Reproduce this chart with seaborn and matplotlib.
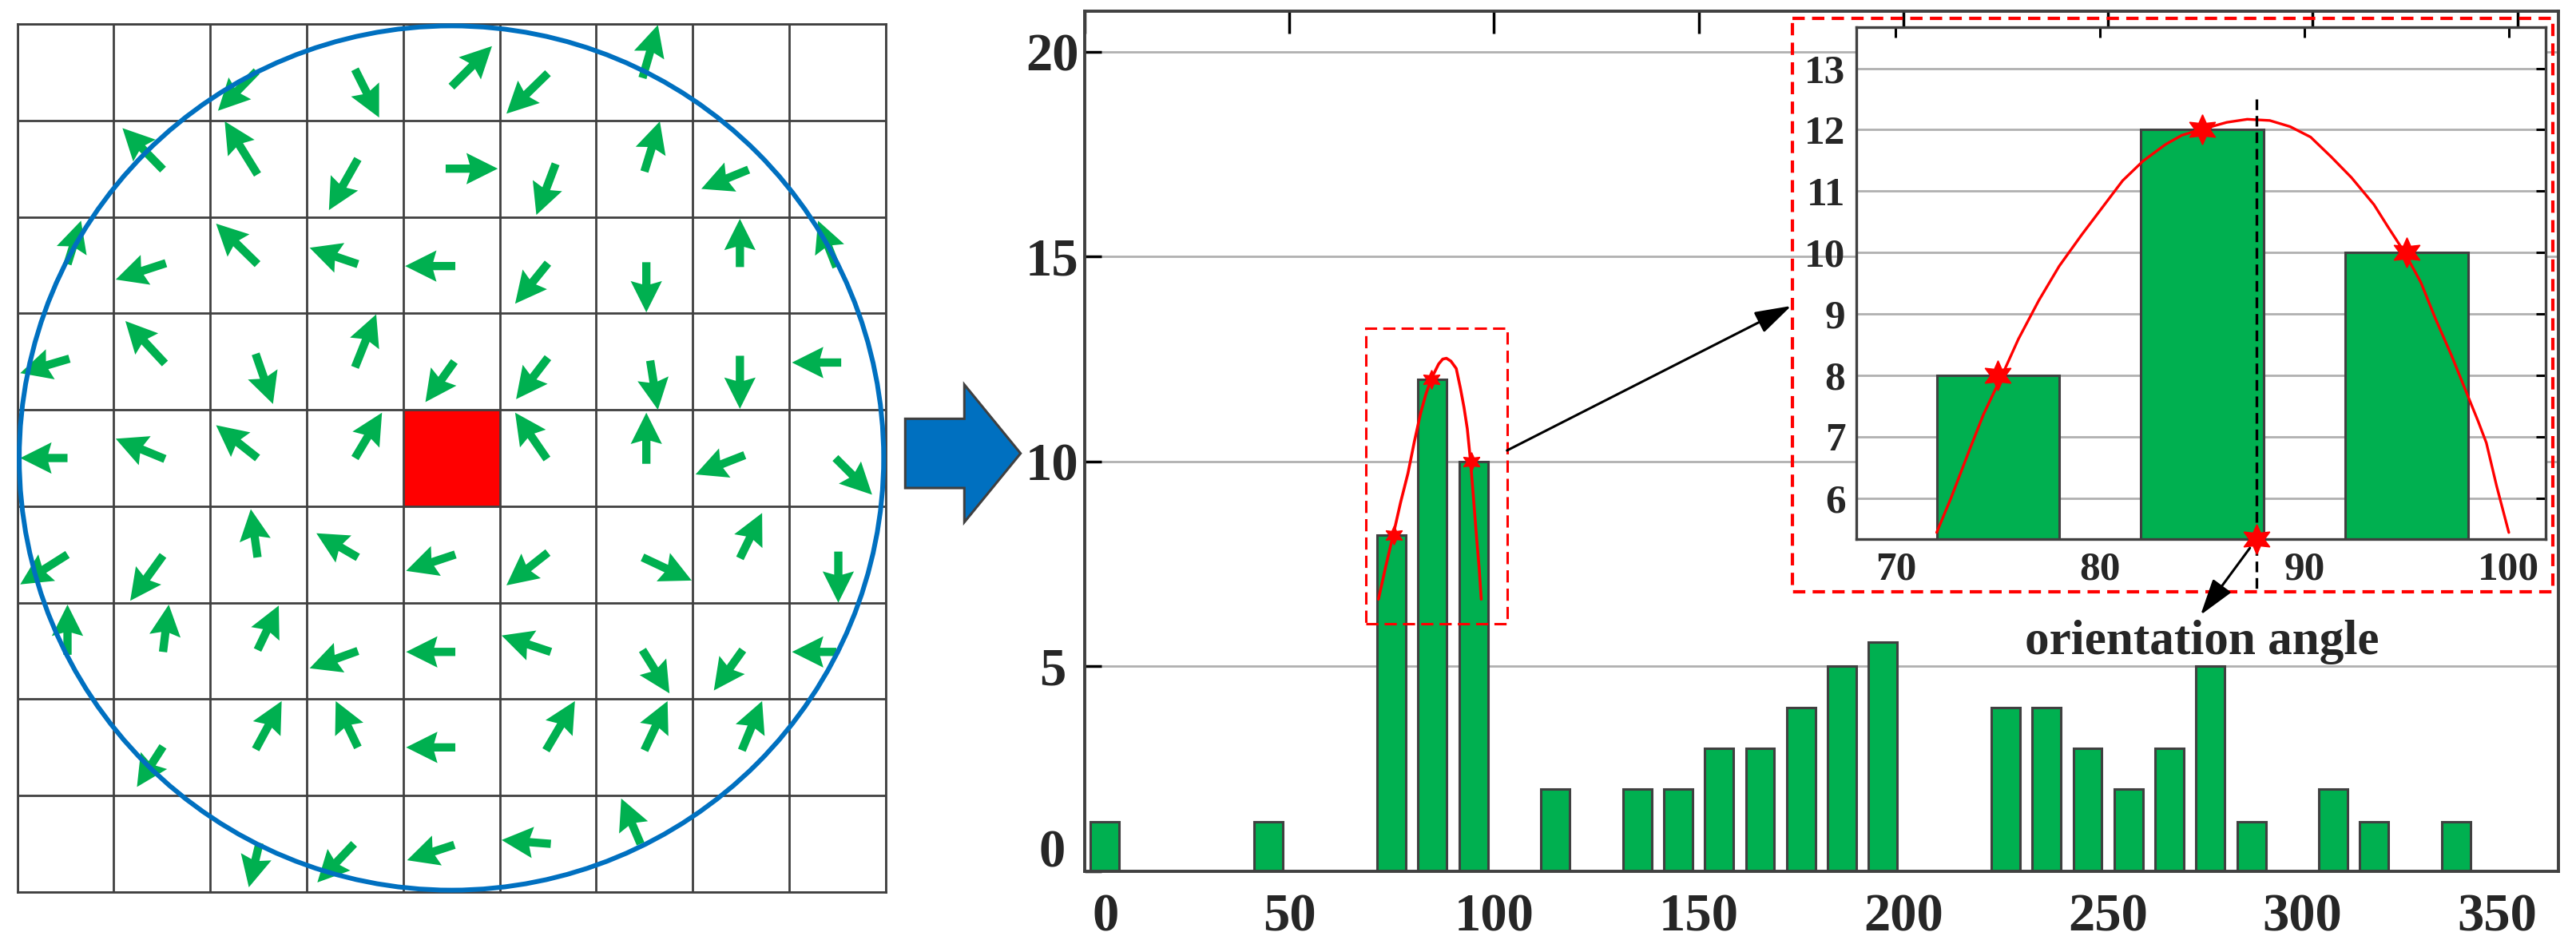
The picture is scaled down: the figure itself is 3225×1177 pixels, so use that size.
import numpy as np
import matplotlib
matplotlib.use('Agg')
import matplotlib.pyplot as plt
import matplotlib.patches as mpatches
from matplotlib.transforms import ScaledTranslation
import seaborn as sns

# ---- left panel: gradient arrows in a 9x9 cell window (cell units, y from top)
red_cell = (4, 4)
tail_x = [2.48, 3.50, 4.50, 5.50, 6.48,
          1.51, 2.49, 3.53, 4.44, 5.58, 6.50, 7.58,
          0.52, 1.54, 2.49, 3.53, 4.54, 5.50, 6.52, 7.49, 8.49,
          0.54, 1.53, 2.47, 3.50, 4.53, 5.50, 6.56, 7.49, 8.54,
          0.52, 1.53, 2.49, 3.50, 5.49, 6.52, 7.54, 8.48,
          0.52, 1.51, 2.49, 3.53, 4.54, 5.50, 6.48, 7.49, 8.51,
          0.52, 1.51, 2.49, 3.53, 4.54, 5.53, 6.48, 7.52, 8.49,
          1.51, 2.47, 3.53, 4.54, 5.48, 6.50, 7.51,
          2.51, 3.49, 4.53, 5.53, 6.46]
tail_y = [0.49, 0.47, 0.65, 0.51, 0.56,
          1.51, 1.56, 1.40, 1.50, 1.45, 1.53, 1.51,
          2.49, 2.48, 2.49, 2.49, 2.51, 2.48, 2.47, 2.52, 2.52,
          3.47, 3.52, 3.42, 3.56, 3.50, 3.46, 3.49, 3.44, 3.51,
          4.50, 4.51, 4.50, 4.50, 4.51, 4.56, 4.47, 4.50,
          5.50, 5.51, 5.53, 5.53, 5.50, 5.48, 5.53, 5.54, 5.47,
          6.54, 6.51, 6.49, 6.50, 6.51, 6.51, 6.49, 6.49, 6.51,
          7.49, 7.52, 7.50, 7.50, 7.53, 7.53, 7.53,
          8.49, 8.50, 8.51, 8.50, 8.50]
head_x = [2.08, 3.75, 4.92, 5.07, 6.64,
          1.09, 2.15, 3.23, 4.98, 5.38, 6.66, 7.09,
          0.66, 1.02, 2.06, 3.03, 4.02, 5.16, 6.52, 7.49, 8.30,
          0.03, 1.12, 2.65, 3.72, 4.23, 5.17, 6.64, 7.49, 8.03,
          0.03, 1.02, 2.06, 3.78, 5.16, 6.52, 7.03, 8.86,
          0.03, 1.17, 2.42, 3.10, 4.03, 5.07, 6.99, 7.72, 8.51,
          0.52, 1.57, 2.71, 3.03, 4.03, 5.02, 6.76, 7.22, 8.03,
          1.24, 2.74, 3.30, 4.03, 5.78, 6.74, 7.72,
          2.40, 3.11, 4.04, 5.02, 6.26]
head_y = [0.90, 0.97, 0.23, 0.93, 0.01,
          1.08, 1.01, 1.93, 1.50, 1.98, 1.01, 1.71,
          2.04, 2.65, 2.07, 2.32, 2.51, 2.90, 2.99, 2.02, 2.04,
          3.62, 3.08, 3.94, 3.01, 3.92, 3.89, 4.00, 3.99, 3.51,
          4.50, 4.30, 4.16, 4.03, 4.03, 4.03, 4.67, 4.88,
          5.81, 5.98, 5.03, 5.28, 5.67, 5.82, 5.77, 5.07, 6.00,
          6.02, 6.02, 6.03, 6.68, 6.51, 6.34, 6.94, 6.91, 6.51,
          7.91, 7.02, 7.02, 7.50, 7.02, 7.02, 7.02,
          8.95, 8.90, 8.67, 8.46, 8.03]

# ---- orientation histogram (bin centre in degrees, count)
bar_angle = [5, 45, 75, 85, 95, 115, 135, 145, 155, 165, 175, 185, 195,
             225, 235, 245, 255, 265, 275, 285, 305, 315, 335]
bar_count = [1.2, 1.2, 8.2, 12, 10, 2, 2, 2, 3, 3, 4, 5, 5.6,
             4, 4, 3, 2, 3, 5, 1.2, 2, 1.2, 1.2]
x_ticks = [0, 50, 100, 150, 200, 250, 300, 350]
y_ticks = [0, 5, 10, 15, 20]

# fitted curve over the peak, as drawn in the main plot
main_fit_x = [71.8, 73.6, 75.5, 77.2, 79.0, 80.6, 82.1, 83.4, 84.7, 86.5, 87.5,
              88.4, 89.5, 90.8, 91.8, 92.7, 93.5, 94.3, 95.1, 95.8, 96.4, 96.9]
main_fit_y = [6.64, 7.45, 8.25, 9.0, 9.71, 10.5, 11.18, 11.65, 12.02, 12.38, 12.5,
              12.52, 12.45, 12.27, 11.8, 11.32, 10.8, 10.0, 9.0, 8.1, 7.4, 6.64]
main_star_x = [75.5, 84.8, 94.4]
main_star_y = [8.2, 12.0, 10.0]
zoom_box = [68.8, 103.2, 6.05, 13.26]   # x0, x1, y0, y1

# ---- zoomed inset
inset_angle = [75, 85, 95]
inset_count = [8, 12, 10]
inset_x_ticks = [70, 80, 90, 100]
inset_y_ticks = [6, 7, 8, 9, 10, 11, 12, 13]
inset_fit_x = [72.0, 72.7, 73.6, 74.3, 75.2, 76.0, 77.0, 78.0, 79.1, 80.1, 81.1,
               82.1, 83.2, 84.0, 84.9, 86.2, 87.2, 88.3, 89.3, 90.3, 91.3, 92.3,
               93.4, 94.1, 94.9, 95.7, 96.4, 97.2, 98.0, 98.5, 98.9, 99.4, 100.0]
inset_fit_y = [5.44, 6.0, 6.78, 7.37, 8.0, 8.59, 9.22, 9.78, 10.29, 10.73, 11.17,
               11.49, 11.76, 11.91, 12.0, 12.12, 12.17, 12.15, 12.05, 11.88, 11.56, 11.22,
               10.78, 10.41, 10.0, 9.51, 8.93, 8.32, 7.66, 7.25, 6.9, 6.2, 5.44]
inset_star_x = [75, 85, 95]
inset_star_y = [8, 12, 10]
peak_angle = 87.65

GREEN = '#00B050'
EDGE = '#404040'
GRID = '#B0B0B0'
RED = '#FF0000'
BLUE = '#0070C0'
STAR = (6, 1, 0)

sns.set_style('white')
plt.rcParams['font.family'] = ['Liberation Serif', 'DejaVu Serif']
plt.rcParams['font.weight'] = 'bold'

W, H = 3225, 1177
fig = plt.figure(figsize=(W / 100, H / 100), dpi=100)

# left panel
axg = fig.add_axes([21.7 / W, 1 - 1117 / H, 1087 / W, 1087 / H])
axg.set_xlim(0, 9)
axg.set_ylim(9, 0)
axg.set_xticks(range(10))
axg.set_yticks(range(10))
axg.tick_params(length=0, labelbottom=False, labelleft=False)
axg.grid(True, color=EDGE, lw=2)
axg.set_axisbelow(True)
for s in axg.spines.values():
    s.set_color(EDGE)
    s.set_linewidth(2)
axg.add_patch(mpatches.Rectangle(red_cell, 1, 1, color=RED, zorder=0.3))
u = np.subtract(head_x, tail_x)
v = np.subtract(head_y, tail_y)
axg.quiver(tail_x, tail_y, u, v, angles='xy', scale_units='xy', scale=1,
           color=GREEN, width=0.0095, headwidth=3.8, headlength=3.8,
           headaxislength=3.4, zorder=3)
axg.add_patch(mpatches.Circle((4.5, 4.5), 4.48, fill=False, ec=BLUE, lw=4.3,
                              zorder=4, clip_on=False))

# main histogram
ax = fig.add_axes([1357.7 / W, 1 - 1091 / H, (3203 - 1357.7) / W, (1091 - 13.5) / H])
sns.barplot(x=bar_angle, y=bar_count, native_scale=True, width=0.7, color=GREEN,
            saturation=1, edgecolor=EDGE, linewidth=2.2, errorbar=None, ax=ax, zorder=2)
ax.set_xlim(0, 360)
ax.set_ylim(0, 21)
ax.set_xticks(x_ticks, [str(t) for t in x_ticks])
ax.set_yticks(y_ticks, [str(t) for t in y_ticks], ha='center')
ax.set_xlabel('')
ax.set_ylabel('')
ax.yaxis.grid(True, color=GRID, lw=2)
ax.xaxis.grid(False)
ax.set_axisbelow(True)
for s in ax.spines.values():
    s.set_color(EDGE)
    s.set_linewidth(2.8)
ax.tick_params(axis='x', direction='in', top=True, bottom=False, labelbottom=True,
               length=20, width=2.5, color='black', labelsize=48, pad=20)
ax.tick_params(axis='y', direction='in', left=True, right=False, length=15,
               width=2.5, color='black', labelsize=48, pad=29)
sns.lineplot(x=main_fit_x, y=main_fit_y, sort=False, color=RED, lw=2.6, ax=ax, zorder=4)
ax.plot(main_star_x, main_star_y, ls='none', marker=STAR, ms=17, color=RED, zorder=5)
ax.add_patch(mpatches.Rectangle((zoom_box[0], zoom_box[2]), zoom_box[1] - zoom_box[0],
                                zoom_box[3] - zoom_box[2], fill=False, ec=RED, lw=2.2,
                                ls=(0, (5, 2.5)), zorder=5))

# hand-placed label nudges as in the original
x_label_shift = {0: 18.7, 300: -9.4, 350: -18}
for lab, t in zip(ax.get_xticklabels(), x_ticks):
    if t in x_label_shift:
        lab.set_transform(lab.get_transform() +
                          ScaledTranslation(x_label_shift[t] / 72, 0, fig.dpi_scale_trans))
for lab, t in zip(ax.get_yticklabels(), y_ticks):
    if t == 0:
        lab.set_transform(lab.get_transform() +
                          ScaledTranslation(0, 21 / 72, fig.dpi_scale_trans))

# inset
axi = fig.add_axes([2324.3 / W, 1 - 675 / H, 862.4 / W, 641 / H], zorder=5)
axi.set_facecolor('white')
sns.barplot(x=inset_angle, y=inset_count, native_scale=True, width=0.6, color=GREEN,
            saturation=1, edgecolor=EDGE, linewidth=2.2, errorbar=None, ax=axi, zorder=2)
axi.set_xlim(68.08, 101.79)
axi.set_ylim(5.333, 13.67)
axi.set_xticks(inset_x_ticks, [str(t) for t in inset_x_ticks])
axi.set_yticks(inset_y_ticks, [str(t) for t in inset_y_ticks])
axi.set_xlabel('')
axi.set_ylabel('')
axi.yaxis.grid(True, color=GRID, lw=2)
axi.xaxis.grid(False)
axi.set_axisbelow(True)
for s in axi.spines.values():
    s.set_color(EDGE)
    s.set_linewidth(2.4)
axi.tick_params(direction='in', top=True, right=True, length=9, width=2.2,
                color='black', labelsize=37)
axi.tick_params(axis='x', pad=11)
axi.tick_params(axis='y', pad=10)
sns.lineplot(x=inset_fit_x, y=inset_fit_y, sort=False, color=RED, lw=2.4, ax=axi, zorder=4)
axi.plot(inset_star_x, inset_star_y, ls='none', marker=STAR, ms=27, color=RED, zorder=6)
axi.plot([peak_angle, peak_angle], [12.5, 4.5], color='black', lw=2.4,
         ls=(0, (4, 2.2)), clip_on=False, zorder=5)
axi.plot([peak_angle], [5.333], ls='none', marker=STAR, ms=27, color=RED,
         clip_on=False, zorder=7)

# overlay in pixel units for the connecting graphics
deco = fig.add_axes([0, 0, 1, 1], zorder=10)
deco.set_xlim(0, W)
deco.set_ylim(H, 0)
deco.axis('off')
deco.patch.set_alpha(0)
deco.add_patch(mpatches.FancyArrow(1133.3, 567.7, 144.4, 0, width=86.7, head_width=172.3,
                                   head_length=70.4, length_includes_head=True,
                                   fc=BLUE, ec=EDGE, lw=2.2))
deco.add_patch(mpatches.Rectangle((2244, 22.7), 951.7, 718, fill=False, ec=RED, lw=3,
                                  ls=(0, (3.7, 2.2))))
arrow_kw = dict(arrowstyle='-|>,head_length=0.8,head_width=0.25', mutation_scale=35,
                lw=2.2, color='black', shrinkA=0, shrinkB=0)
deco.annotate('', xy=(2242.5, 383), xytext=(zoom_box[1], 10.27),
              textcoords=ax.transData, arrowprops=arrow_kw)
deco.annotate('', xy=(2755, 770), xytext=(peak_angle, 5.333),
              textcoords=axi.transData, arrowprops=dict(arrow_kw, shrinkA=10))
deco.text(2757, 819, 'orientation angle', ha='center', va='baseline',
          fontsize=44, fontweight='bold')

fig.savefig('out.png', dpi=100)
